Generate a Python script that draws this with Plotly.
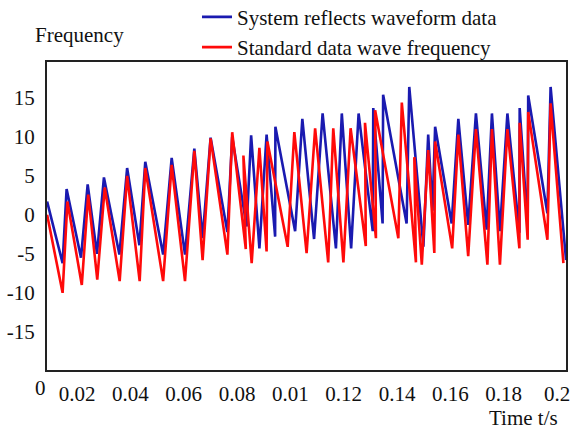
import plotly.graph_objects as go

# ---- data ----
t_system = [0.0088, 0.0146, 0.0161, 0.0215, 0.0240, 0.0275, 0.0301, 0.0359, 0.0388, 0.0434,
            0.0456, 0.0523, 0.0555, 0.0605, 0.0640, 0.0671, 0.0701, 0.0764, 0.0782, 0.0836,
            0.0853, 0.0884, 0.0911, 0.0943, 0.0944, 0.1018, 0.1045, 0.1089, 0.1121, 0.1171,
            0.1193, 0.1228, 0.1256, 0.1309, 0.1311, 0.1346, 0.1348, 0.1436, 0.1446, 0.1499,
            0.1517, 0.1533, 0.1543, 0.1605, 0.1630, 0.1667, 0.1696, 0.1736, 0.1756, 0.1786,
            0.1814, 0.1859, 0.1860, 0.1890, 0.1892, 0.1964, 0.1976, 0.2034]
v_system = [1.7, -6.2, 3.3, -5.5, 3.9, -5.0, 4.8, -5.1, 6.0, -3.9,
            6.8, -5.1, 7.3, -5.1, 8.5, -3.0, 9.9, -2.2, 10.0, -1.5,
            10.2, -4.3, 10.3, -2.8, 11.3, -2.1, 12.3, -3.1, 13.0, -4.3,
            13.0, -4.3, 13.0, -2.1, 13.7, -1.1, 15.4, -1.1, 16.4, -4.1,
            10.3, 0.5, 11.3, -1.1, 12.3, -1.3, 13.0, -1.9, 13.0, -2.1,
            13.0, -2.3, 13.7, -1.5, 15.3, 0.2, 16.4, -5.8]

t_standard = [0.0088, 0.0146, 0.0164, 0.0218, 0.0242, 0.0276, 0.0304, 0.0360, 0.0388, 0.0435,
              0.0456, 0.0523, 0.0555, 0.0605, 0.0640, 0.0671, 0.0701, 0.0764, 0.0782, 0.0833,
              0.0824, 0.0855, 0.0884, 0.0911, 0.0914, 0.0990, 0.1015, 0.1061, 0.1093, 0.1142,
              0.1161, 0.1199, 0.1226, 0.1283, 0.1280, 0.1321, 0.1318, 0.1405, 0.1418, 0.1471,
              0.1465, 0.1493, 0.1517, 0.1540, 0.1543, 0.1607, 0.1630, 0.1667, 0.1696, 0.1739,
              0.1756, 0.1786, 0.1814, 0.1859, 0.1860, 0.1890, 0.1892, 0.1964, 0.1976, 0.2024]
v_standard = [0.0, -10.0, 1.7, -9.0, 2.6, -8.3, 3.5, -8.5, 5.0, -8.5,
              6.0, -8.5, 6.4, -8.5, 8.2, -5.8, 9.8, -5.1, 10.6, -4.4,
              7.6, -6.2, 8.6, -4.7, 9.4, -4.1, 10.6, -4.9, 11.1, -6.1,
              11.1, -6.1, 11.1, -4.0, 11.8, -3.0, 13.4, -3.0, 14.4, -6.1,
              7.4, -6.4, 8.3, -4.9, 9.4, -4.3, 10.3, -5.3, 11.0, -6.4,
              11.0, -6.4, 11.0, -4.3, 11.8, -3.2, 13.2, -3.2, 14.3, -6.2]

x_tick_vals = [0.02, 0.04, 0.06, 0.08, 0.10, 0.12, 0.14, 0.16, 0.18, 0.20]
x_tick_text = ["0.02", "0.04", "0.06", "0.08", "0.01", "0.12", "0.14", "0.16", "0.18", "0.2"]
y_tick_vals = [-15, -10, -5, 0, 5, 10, 15]
y_tick_text = ["-15", "-10", "-5", "0", "5", "10", "15"]

series_names = ["System reflects waveform data", "Standard data wave frequency"]

FONT = "Liberation Serif, Times New Roman, serif"
FS = 21

fig = go.Figure()
fig.add_trace(go.Scatter(x=t_system, y=v_system, mode="lines", name=series_names[0],
                         line=dict(color="#1a1ab0", width=2.6)))
fig.add_trace(go.Scatter(x=t_standard, y=v_standard, mode="lines", name=series_names[1],
                         line=dict(color="#ff0a0a", width=2.6)))

fig.update_layout(
    width=574, height=430,
    margin=dict(l=47, r=8, t=62, b=60, autoexpand=False),
    paper_bgcolor="white", plot_bgcolor="white",
    font=dict(family=FONT, size=FS, color="#111111"),
    showlegend=True,
    legend=dict(x=0.289, y=1.212, xanchor="left", yanchor="top",
                bgcolor="rgba(0,0,0,0)", font=dict(size=FS, family=FONT),
                tracegroupgap=0),
    xaxis=dict(range=[0.00875, 0.203375], tickvals=x_tick_vals, ticktext=x_tick_text,
               showgrid=False, zeroline=False, showline=True, linecolor="#222222",
               linewidth=2, mirror=True, ticks="", ticklabelstandoff=4, automargin=False),
    yaxis=dict(range=[-19.9, 19.6], tickvals=y_tick_vals, ticktext=y_tick_text,
               showgrid=False, zeroline=False, showline=True, linecolor="#222222",
               linewidth=2, mirror=True, ticks="", ticklabelstandoff=6, automargin=False),
    annotations=[
        dict(text="Frequency", xref="paper", yref="paper", x=-0.027, y=1.088,
             xanchor="left", yanchor="middle", showarrow=False, font=dict(size=FS)),
        dict(text="Time t/s", xref="paper", yref="paper", x=0.988, y=-0.156,
             xanchor="right", yanchor="middle", showarrow=False, font=dict(size=FS)),
        dict(text="0", xref="paper", yref="paper", x=-0.012, y=-0.058,
             xanchor="center", yanchor="middle", showarrow=False, font=dict(size=FS)),
    ],
)

fig.write_html("out.html", config={"displayModeBar": False},
               post_script="document.body.style.margin='0';")
